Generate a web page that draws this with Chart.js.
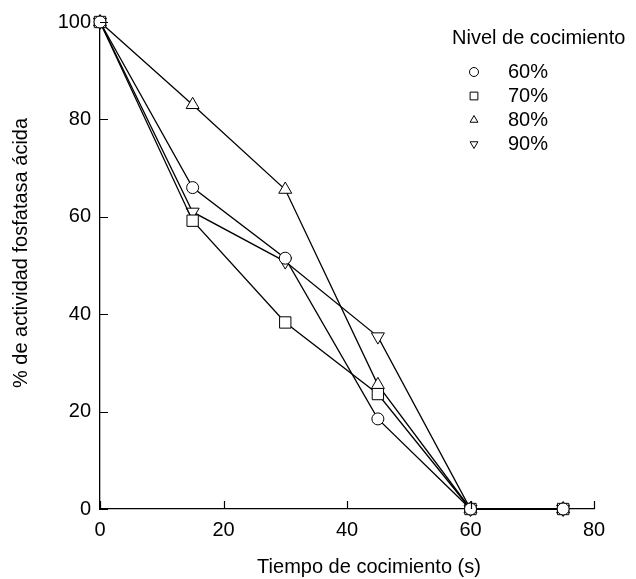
<!DOCTYPE html>
<html>
<head>
<meta charset="utf-8">
<script src="https://cdn.jsdelivr.net/npm/chart.js@4.4.0/dist/chart.umd.min.js"></script>
<style>
html, body { margin: 0; padding: 0; background: #fff; }
#wrap { width: 636px; height: 579px; }
</style>
</head>
<body>
<div id="wrap"><canvas id="chart"></canvas></div>
<script>
// tiempo de cocimiento (s)
var tiempo = [0, 15, 30, 45, 60, 75];
// % de actividad por nivel de cocimiento
var nivel60 = [100, 66, 51.5, 18.5, 0, 0];
var nivel70 = [100, 59.2, 38.3, 23.6, 0, 0];
var nivel80 = [100, 83, 65.6, 25.5, 0, 0];
var nivel90 = [100, 61, 50.8, 35.4, 0, 0];
var etiquetas = ['60%', '70%', '80%', '90%'];
var xTicks = [0, 20, 40, 60, 80];
var yTicks = [0, 20, 40, 60, 80, 100];

var FONT = '"Liberation Sans", Arial, Helvetica, sans-serif';

function puntos(vals) {
	return tiempo.map(function (t, i) { return { x: t, y: vals[i] }; });
}

function serie(label, vals, style, radius, rot) {
	return {
		label: label,
		data: puntos(vals),
		borderColor: '#000',
		borderWidth: 1.3,
		backgroundColor: '#fff',
		pointStyle: style,
		pointRadius: radius,
		pointRotation: rot,
		pointBorderWidth: 1,
		pointBorderColor: '#000',
		pointBackgroundColor: '#fff',
		tension: 0,
		clip: false
	};
}

// marcas hacia dentro, leyenda y titulos de ejes
var extras = {
	id: 'extras',
	afterDraw: function (chart) {
		var ctx = chart.ctx;
		var xs = chart.scales.x, ys = chart.scales.y;
		var area = chart.chartArea;
		ctx.save();
		ctx.strokeStyle = '#000';
		ctx.lineWidth = 1.2;
		ctx.beginPath();
		xTicks.forEach(function (v) {
			var px = Math.round(xs.getPixelForValue(v)) + 0.5;
			ctx.moveTo(px, area.bottom);
			ctx.lineTo(px, area.bottom - 8);
		});
		yTicks.forEach(function (v) {
			var py = Math.round(ys.getPixelForValue(v)) + 0.5;
			ctx.moveTo(area.left, py);
			ctx.lineTo(area.left + 8, py);
		});
		ctx.stroke();

		ctx.fillStyle = '#000';
		ctx.font = '20px ' + FONT;
		ctx.textBaseline = 'middle';
		ctx.textAlign = 'left';
		ctx.fillText('Nivel de cocimiento', 452, 38);
		chart.data.datasets.forEach(function (ds, i) {
			var y = 72 + i * 24;
			ctx.fillStyle = '#fff';
			ctx.strokeStyle = '#000';
			ctx.lineWidth = 1;
			Chart.helpers.drawPoint(ctx, {
				pointStyle: ds.pointStyle,
				radius: ds.pointStyle === 'rect' ? 5.5 : 4.5,
				rotation: ds.pointRotation,
				borderWidth: 1
			}, 474, y);
			ctx.fillStyle = '#000';
			ctx.fillText(ds.label, 508, y);
		});
		ctx.textAlign = 'center';
		ctx.fillText('Tiempo de cocimiento (s)', 369, 567);
		ctx.translate(21, 253);
		ctx.rotate(-Math.PI / 2);
		ctx.fillText('% de actividad fosfatasa \u00e1cida', 0, 0);
		ctx.restore();
	}
};

var ctx = document.getElementById('chart').getContext('2d');
var chart = new Chart(ctx, {
	type: 'line',
	data: {
		datasets: [
			serie(etiquetas[0], nivel60, 'circle', 6, 0),
			serie(etiquetas[1], nivel70, 'rect', 8, 0),
			serie(etiquetas[2], nivel80, 'triangle', 7.5, 0),
			serie(etiquetas[3], nivel90, 'triangle', 7.5, 180)
		]
	},
	options: {
		responsive: true,
		maintainAspectRatio: false,
		animation: false,
		layout: { padding: { left: 0, right: 42, top: 22, bottom: 0 } },
		plugins: { legend: { display: false }, tooltip: { enabled: false } },
		scales: {
			x: {
				type: 'linear',
				min: 0,
				max: 80,
				afterBuildTicks: function (s) { s.ticks = xTicks.map(function (v) { return { value: v }; }); },
				afterFit: function (s) { s.height = 70; },
				grid: { display: false, drawTicks: false },
				border: { color: '#000', width: 1.3 },
				ticks: { color: '#000', padding: 9, font: { family: FONT, size: 20 } }
			},
			y: {
				type: 'linear',
				min: 0,
				max: 100,
				afterBuildTicks: function (s) { s.ticks = yTicks.map(function (v) { return { value: v }; }); },
				afterFit: function (s) { s.width = 100; },
				grid: { display: false, drawTicks: false },
				border: { color: '#000', width: 1.3 },
				ticks: { color: '#000', padding: 9, font: { family: FONT, size: 20 } }
			}
		}
	},
	plugins: [extras]
});
</script>
</body>
</html>
